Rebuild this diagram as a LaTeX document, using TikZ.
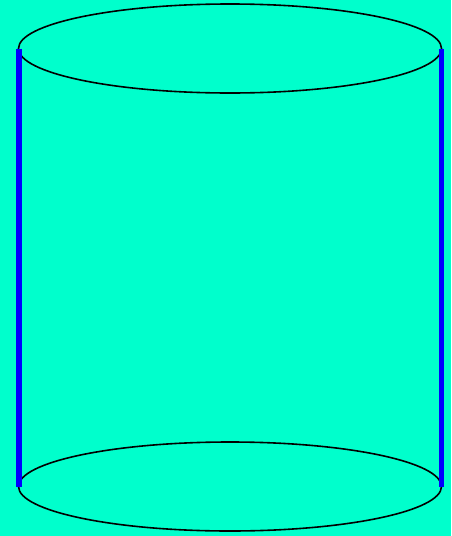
\documentclass[tikz,border=0pt]{standalone}
\definecolor{bgcol}{RGB}{0,255,204}
\definecolor{sidecol}{RGB}{0,0,255}
\tikzset{rim/.style={draw=black,line width=1.6pt},side/.style={draw=sidecol,line width=5.5pt}}
\begin{document}
\begin{tikzpicture}[x=1pt,y=-1pt]
\fill[bgcol] (0,0) rectangle (451,536);
\useasboundingbox (0,0) rectangle (451,536);
\draw[rim] (230,48.5) ellipse [x radius=211.5, y radius=44.5];
\draw[rim] (230,486.5) ellipse [x radius=211.5, y radius=44.5];
\coordinate (tl) at (19,48.5);
\coordinate (bl) at (19,486.5);
\coordinate (tr) at (441.5,48.5);
\coordinate (br) at (441.5,486.5);
\draw[side] (tl) -- (bl);
\draw[side] (tr) -- (br);
\end{tikzpicture}
\end{document}
